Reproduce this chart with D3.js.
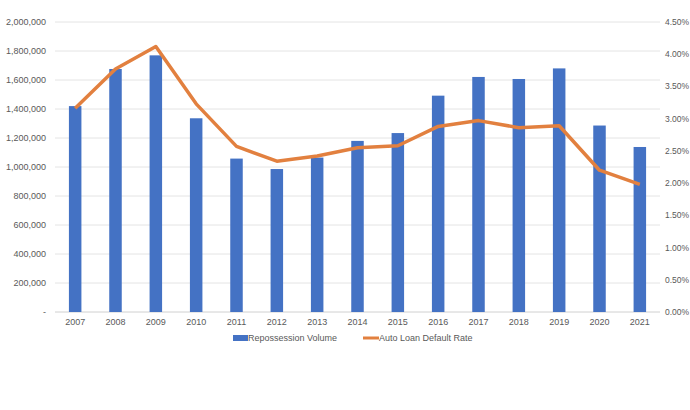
<!DOCTYPE html>
<html>
<head>
<meta charset="utf-8">
<script src="https://cdn.jsdelivr.net/npm/d3@7"></script>
<style>
  body { margin: 0; background: #fff; }
  text { font-family: "Liberation Sans", Arial, sans-serif; fill: #595959; }
</style>
</head>
<body>
<div id="chart"></div>
<script>
// chart data
var years = ["2007","2008","2009","2010","2011","2012","2013","2014","2015","2016","2017","2018","2019","2020","2021"];
var repossessions = [1420000,1676000,1770000,1336000,1058000,986000,1065000,1180000,1234000,1492000,1621000,1607000,1680000,1286000,1138000];
var defaultRate = [3.16,3.77,4.12,3.23,2.57,2.34,2.42,2.55,2.58,2.88,2.97,2.86,2.89,2.20,1.98];
var leftTicks = [0,200000,400000,600000,800000,1000000,1200000,1400000,1600000,1800000,2000000];
var rightTicks = [0,0.5,1,1.5,2,2.5,3,3.5,4,4.5];
var seriesNames = ["Repossession Volume", "Auto Loan Default Rate"];

var width = 690, height = 410;
var margin = {top: 22, right: 30, bottom: 98, left: 55};
var plotW = width - margin.left - margin.right,
    plotH = height - margin.top - margin.bottom;

var svg = d3.select("#chart").append("svg")
    .attr("width", width)
    .attr("height", height);

var g = svg.append("g")
    .attr("transform", "translate(" + margin.left + "," + margin.top + ")");

var x = d3.scaleBand().domain(years).range([0, plotW]).paddingInner(0.69).paddingOuter(0.345);
var yL = d3.scaleLinear().domain([0, 2000000]).range([plotH, 0]);
var yR = d3.scaleLinear().domain([0, 4.5]).range([plotH, 0]);

// gridlines
g.selectAll(".grid")
  .data(leftTicks)
  .enter().append("line")
    .attr("x1", 0).attr("x2", plotW)
    .attr("y1", function(d) { return yL(d); })
    .attr("y2", function(d) { return yL(d); })
    .attr("stroke", function(d) { return d == 0 ? "#d0d0d0" : "#e4e4e4"; })
    .attr("stroke-width", 1);

// left axis labels
var fmt = d3.format(",");
g.selectAll(".ltick")
  .data(leftTicks)
  .enter().append("text")
    .attr("x", -9)
    .attr("y", function(d) { return yL(d); })
    .attr("dy", "0.35em")
    .attr("text-anchor", "end")
    .style("font-size", "9px")
    .text(function(d) { return d == 0 ? "-" : fmt(d); });

// right axis labels (pulled in a little so the % sign fits)
g.selectAll(".rtick")
  .data(rightTicks)
  .enter().append("text")
    .attr("x", plotW + 5)
    .attr("y", function(d) { return yR(d); })
    .attr("dy", "0.35em")
    .attr("text-anchor", "start")
    .style("font-size", "8.5px")
    .text(function(d) { return d.toFixed(2) + "%"; });

// x labels
g.selectAll(".xtick")
  .data(years)
  .enter().append("text")
    .attr("x", function(d) { return x(d) + x.bandwidth() / 2; })
    .attr("y", plotH + 10)
    .attr("dy", "0.35em")
    .attr("text-anchor", "middle")
    .style("font-size", "9px")
    .text(function(d) { return d; });

// bars
g.selectAll(".bar")
  .data(repossessions)
  .enter().append("rect")
    .attr("x", function(d, i) { return x(years[i]); })
    .attr("y", function(d) { return yL(d); })
    .attr("width", x.bandwidth())
    .attr("height", function(d) { return plotH - yL(d); })
    .attr("fill", "#4472c4");

// default rate line
var line = d3.line()
  .x(function(d, i) { return x(years[i]) + x.bandwidth() / 2; })
  .y(function(d) { return yR(d); });

g.append("path")
  .datum(defaultRate)
  .attr("d", line)
  .attr("fill", "none")
  .attr("stroke", "#e2803f")
  .attr("stroke-width", 3.5)
  .attr("stroke-linejoin", "round");

// legend
var legend = svg.append("g").attr("transform", "translate(0,338)");
legend.append("rect")
  .attr("x", 233).attr("y", -3)
  .attr("width", 15).attr("height", 6)
  .attr("fill", "#4472c4");
legend.append("text")
  .attr("x", 248).attr("y", 0).attr("dy", "0.35em")
  .style("font-size", "9px")
  .text(seriesNames[0]);
legend.append("line")
  .attr("x1", 363).attr("x2", 379)
  .attr("y1", 0).attr("y2", 0)
  .attr("stroke", "#e2803f")
  .attr("stroke-width", 3);
legend.append("text")
  .attr("x", 379).attr("y", 0).attr("dy", "0.35em")
  .style("font-size", "9px")
  .text(seriesNames[1]);
</script>
</body>
</html>
